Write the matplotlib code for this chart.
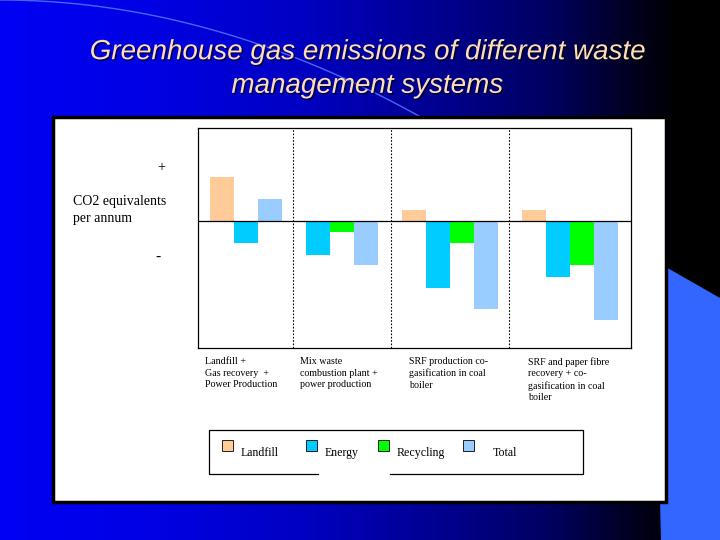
import numpy as np
import matplotlib.pyplot as plt
from matplotlib.patches import Rectangle, Polygon
import matplotlib.patheffects as pe

# Chart data (heights, arbitrary units, + = emission, - = saving)
groups = [
    "Landfill +\nGas recovery  +\nPower Production",
    "Mix waste\ncombustion plant +\npower production",
    "SRF production co-\ngasification in coal\nboiler",
    "SRF and paper fibre\nrecovery + co-\ngasification in coal\nboiler",
]
series = ["Landfill", "Energy", "Recycling", "Total"]
colors = ["#FFCC99", "#00CCFF", "#00FF00", "#99CCFF"]
landfill = [44, 0, 11, 11]
energy = [-22, -34, -67, -56]
recycling = [None, -11, -22, -44]
total = [22, -44, -88, -99]
group_start = [0, 3, 8, 13]      # first bar slot of each group
dividers = [3.46, 7.54, 12.46]

title = "Greenhouse gas emissions of different waste\nmanagement systems"
serif = ["Liberation Serif", "DejaVu Serif"]

W, H = 720, 540
fig = plt.figure(figsize=(7.2, 5.4), dpi=100)

# background layer in pixel coordinates
bg = fig.add_axes([0, 0, 1, 1])
bg.set_xlim(0, W)
bg.set_ylim(H, 0)
bg.axis("off")

xs = np.arange(W)
blue = np.interp(xs, [0, 150, 300, 450, 550, 640, 680, 720],
                 [245, 228, 195, 140, 95, 25, 0, 0]) / 255.0
img = np.zeros((2, W, 3))
img[:, :, 2] = blue
bg.imshow(img, extent=[0, W, H, 0], aspect="auto", zorder=0)

# faint arc across the top
t = np.linspace(0, 1, 100)
ax_ = 2 * (1 - t) * t * 220 + t ** 2 * 440
ay_ = 2 * (1 - t) * t * 0 + t ** 2 * 128
bg.plot(ax_, ay_, color="#5a80ff", lw=1.0, alpha=0.8, zorder=1)

# light blue shape at the right
bg.add_patch(Polygon([[664, 266], [720, 298], [720, 540], [661, 540], [660, 500]],
                     closed=True, facecolor="#3366FF", edgecolor="none", zorder=1))

# white panel
bg.add_patch(Rectangle((53, 117), 613, 385, facecolor="white",
                       edgecolor="black", lw=2.5, zorder=2))

bg.text(367, 69, title, ha="center", va="center", fontsize=20, style="italic",
        family=["Liberation Sans", "DejaVu Sans"], color="#FFDDB5",
        linespacing=1.38, zorder=3,
        path_effects=[pe.withSimplePatchShadow(offset=(1.2, -1.2),
                                               shadow_rgbFace="black", alpha=0.6)])

# y-axis annotations
bg.text(161, 168, "+", ha="center", va="center", fontsize=10, family=serif, zorder=3)
bg.text(73, 210, "CO2 equivalents\nper annum", ha="left", va="center",
        fontsize=10, family=serif, linespacing=1.42, zorder=3)
bg.text(158, 257, "-", ha="center", va="center", fontsize=11, family=serif, zorder=3)

# category labels
label_x = [205, 300, 409, 528]
for x, g in zip(label_x, groups):
    bg.text(x, 357, g, ha="left", va="top", fontsize=7.2, family=serif,
            linespacing=1.36, zorder=3)

# legend box with broken bottom edge
lx0, lx1, ly0, ly1 = 209, 583, 430, 474
bg.plot([318, lx0, lx0, lx1, lx1, 390], [ly1, ly1, ly0, ly0, ly1, ly1],
        color="black", lw=0.9, zorder=3)
sq_x = [222, 306, 378, 463]
txt_x = [241, 325, 397, 493]
for sx, tx, name, c in zip(sq_x, txt_x, series, colors):
    bg.add_patch(Rectangle((sx, 440), 11, 11, facecolor=c, edgecolor="black",
                           lw=0.6, zorder=3))
    bg.text(tx, 453, name, ha="left", va="center", fontsize=8.6, family=serif, zorder=3)

# the chart itself
ax = fig.add_axes([198 / W, 1 - 347.7 / H, (631 - 198) / W, (347.7 - 127.7) / H])
ax.set_zorder(4)
ax.set_xlim(-0.5, 17.54)
ax.set_ylim(-126.4, 93.6)
ax.set_xticks([])
ax.set_yticks([])
for s in ax.spines.values():
    s.set_linewidth(0.9)

values = [landfill, energy, recycling, total]
for gi in range(len(groups)):
    slot = group_start[gi]
    for si in range(len(series)):
        v = values[si][gi]
        if v is None:
            continue
        ax.bar(slot, v, width=1.0, align="edge", color=colors[si], zorder=2)
        slot += 1

ax.axhline(0, color="black", lw=0.9, zorder=3)
for d in dividers:
    ax.axvline(d, color="black", lw=0.8, ls=(0, (1.5, 1.5)), zorder=1)

fig.savefig("out.png", dpi=100)
